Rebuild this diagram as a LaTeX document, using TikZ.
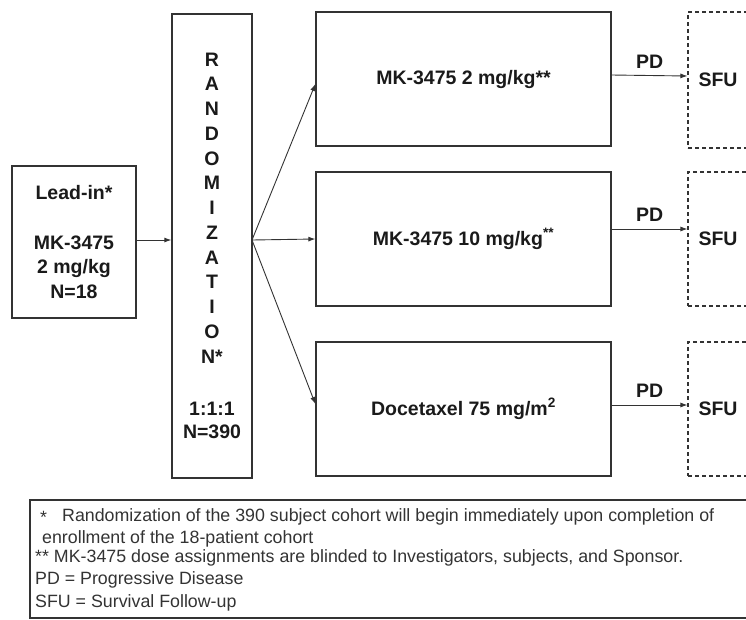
\documentclass[tikz,border=0pt]{standalone}
\usepackage{fontspec}
\setmainfont{Liberation Sans}
\usetikzlibrary{arrows.meta}

\definecolor{ink}{HTML}{333333}
\definecolor{txt}{HTML}{1A1A1A}

\tikzset{
  box/.style={draw=ink, line width=1.3pt, inner sep=0pt, text=txt, font=\bfseries\fontsize{19.5}{24.75}\selectfont, align=center},
  sfubox/.style={draw=ink, line width=1.1pt, dash pattern=on 4pt off 3pt, inner sep=0pt, text=txt, font=\bfseries\fontsize{19.5}{22}\selectfont},
  arr/.style={draw=ink, line width=0.9pt, -{Latex[length=7pt,width=5pt]}},
  pdlabel/.style={midway, above=7pt, inner sep=0pt, text=txt, font=\bfseries\fontsize{19.5}{22}\selectfont},
  note/.style={anchor=west, inner sep=0pt, font=\fontsize{17.8}{20}\selectfont, text=ink}
}

\begin{document}
\begin{tikzpicture}[x=1pt,y=-1pt]
                    \useasboundingbox (0,0) rectangle (746,619);
                    \clip (0,0) rectangle (746,619);

                    \node[box, minimum width=124pt, minimum height=152pt] (lead) at (74,242) {Lead-in*\\[25pt]MK-3475\\2 mg/kg\\N=18};
                    \node[box, minimum width=80pt, minimum height=464pt] (rand) at (212,246) {R\\A\\N\\D\\O\\M\\I\\Z\\A\\T\\I\\O\\N*\\[28pt]1:1:1\\[-1.75pt]N=390};

                    \node[box, minimum width=295pt, minimum height=134pt] (arm1) at (463.5,79) {MK-3475 2 mg/kg**};
                    \node[box, minimum width=295pt, minimum height=134pt] (arm2) at (463.5,239) {MK-3475 10 mg/kg\textsuperscript{**}};
                    \node[box, minimum width=295pt, minimum height=134pt] (arm3) at (463.5,409) {Docetaxel 75 mg/m\textsuperscript{2}};

                    \node[sfubox, minimum width=60pt, minimum height=136pt] (sfu1) at (718,80) {SFU};
                    \node[sfubox, minimum width=60pt, minimum height=134pt] (sfu2) at (718,239) {SFU};
                    \node[sfubox, minimum width=60pt, minimum height=134pt] (sfu3) at (718,409) {SFU};

                    \coordinate (fan) at (252,240);

                    \draw[arr] (lead.east |- fan) -- (rand.west |- fan);
                    \draw[arr] (fan) -- ([yshift=-5pt]arm1.west);
                    \draw[arr] (fan) -- (arm2.west);
                    \draw[arr] (fan) -- ([yshift=5pt]arm3.west);

                    \draw[arr] ([yshift=4pt]arm1.east) -- node[pdlabel] (pd1) {PD} ([yshift=4pt]sfu1.west);
                    \draw[arr] ([yshift=10pt]arm2.east) -- node[pdlabel] (pd2) {PD} ([yshift=10pt]sfu2.west);
                    \draw[arr] ([yshift=4pt]arm3.east) -- node[pdlabel] (pd3) {PD} ([yshift=4pt]sfu3.west);

                    % footnotes
                    \node[draw=ink, line width=1.3pt, minimum width=730pt, minimum height=118pt, inner sep=0pt] (legend) at (395,559) {};
                    \node[note] (n0) at (40,517) {*};
                    \node[note] (n1) at (62,517) {Randomization of the 390 subject cohort will begin immediately upon completion of};
                    \node[note] (n2) at (42,539) {enrollment of the 18-patient cohort};
                    \node[note] (n3) at (35,558) {** MK-3475 dose assignments are blinded to Investigators, subjects, and Sponsor.};
                    \node[note] (n4) at (35,580) {PD = Progressive Disease};
                    \node[note] (n5) at (35,603) {SFU = Survival Follow-up};

                \end{tikzpicture}
\end{document}
